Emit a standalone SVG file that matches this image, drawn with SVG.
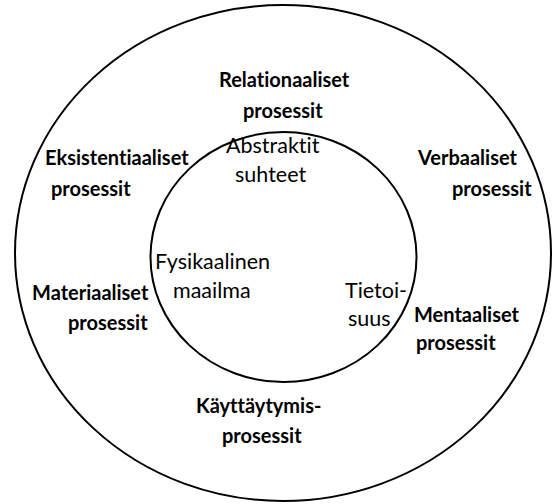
<svg xmlns="http://www.w3.org/2000/svg" width="558" height="504" viewBox="0 0 558 504">
<style>
.ring{fill:none;stroke:#000;stroke-width:2}
text{font-variant-ligatures:none;font-feature-settings:"liga" 0,"dlig" 0}
.b{font-family:Lato,"Open Sans",sans-serif;font-weight:bold;font-size:20px;fill:#000}
.r{font-family:Lato,"Open Sans",sans-serif;font-size:21.5px;fill:#000}
</style>
<rect width="558" height="504" fill="#fff"/>
<g id="outer"><ellipse class="ring" cx="283" cy="253" rx="268" ry="248"/></g>
<g id="inner"><ellipse class="ring" cx="283.5" cy="257" rx="133" ry="125"/></g>
<g id="labels">
<g id="relationaaliset"><text class="b" x="219" y="87">Relationaaliset</text><text class="b" x="243" y="118">prosessit</text></g>
<g id="eksistentiaaliset"><text class="b" x="45" y="165">Eksistentiaaliset</text><text class="b" x="51" y="196">prosessit</text></g>
<g id="verbaaliset"><text class="b" x="418" y="165">Verbaaliset</text><text class="b" x="452" y="196">prosessit</text></g>
<g id="materiaaliset"><text class="b" x="32" y="300">Materiaaliset</text><text class="b" x="68" y="330">prosessit</text></g>
<g id="mentaaliset"><text class="b" x="414" y="322">Mentaaliset</text><text class="b" x="416" y="350">prosessit</text></g>
<g id="kayttaytymis"><text class="b" x="196" y="413">Käyttäytymis-</text><text class="b" x="222" y="443">prosessit</text></g>
<g id="abstraktit"><text class="r" x="226" y="153">Abstraktit</text><text class="r" x="235" y="182">suhteet</text></g>
<g id="fysikaalinen"><text class="r" x="155" y="269">Fysikaalinen</text><text class="r" x="173" y="298">maailma</text></g>
<g id="tietoisuus"><text class="r" x="345" y="298">Tietoi-</text><text class="r" x="348" y="326">suus</text></g>
</g>
</svg>
